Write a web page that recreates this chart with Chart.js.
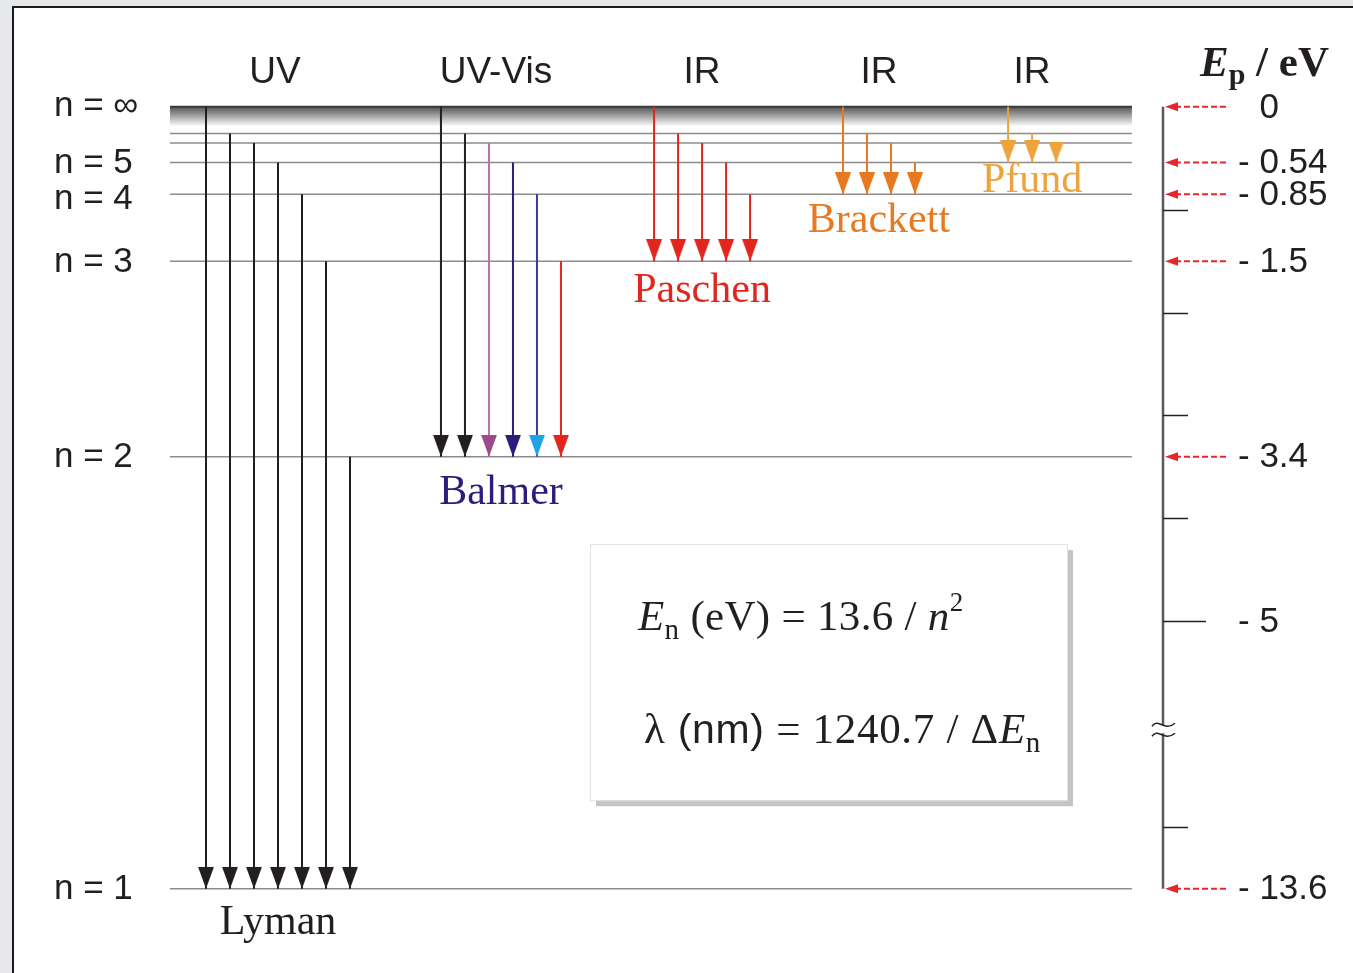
<!DOCTYPE html>
<html>
<head>
<meta charset="utf-8">
<script src="https://cdn.jsdelivr.net/npm/chart.js@4/dist/chart.umd.min.js"></script>
<style>
  html, body { margin: 0; padding: 0; overflow: hidden; background: #e6e8eb; }
  #frame { position: absolute; left: 12px; top: 6px; width: 2000px; height: 2000px; background: #fff;
           border-left: 2px solid #1b1b1b; border-top: 2px solid #1b1b1b; }
  #wrap { position: absolute; left: 0; top: 0; width: 1353px; height: 973px; }
</style>
</head>
<body>
<div id="frame"></div>
<div id="wrap"><canvas id="myChart" width="1353" height="973"></canvas></div>
<script>
// energy levels of hydrogen (eV), read on the right hand scale
var levelNames = ["1", "2", "3", "4", "5", "6", "7", "∞"];
var levelEnergy = [-13.6, -3.4, -1.5, -0.85, -0.54, -0.35, -0.26, 0];
var labelledLevels = ["∞", "5", "4", "3", "2", "1"];

// series: lower level and the upper levels the arrows come from
var seriesNames = ["Lyman", "Balmer", "Paschen", "Brackett", "Pfund"];
var seriesTo = ["1", "2", "3", "4", "5"];
var lymanFrom = ["∞", "7", "6", "5", "4", "3", "2"];
var balmerFrom = ["∞", "7", "6", "5", "4", "3"];
var paschenFrom = ["∞", "7", "6", "5", "4"];
var brackettFrom = ["∞", "7", "6", "5"];
var pfundFrom = ["∞", "7", "6"];
var regionNames = ["UV", "UV-Vis", "IR", "IR", "IR"];

// right scale
var axisLabels = [0, -0.54, -0.85, -1.5, -3.4, -5, -13.6];
var axisMinor = [-1, -2, -3, -4, -13];
var axisMajor = [-5];

// --- layout / style (not data) ---
var seriesColumn = [0, 9.79, 18.67, 26.54, 33.42];   // x of first arrow, one column per arrow
var lineStart = -1.5, lineEnd = 38.58;
var axisX = 39.875;
var serif = '"Liberation Serif", "Times New Roman", serif';
var sans = '"Liberation Sans", Arial, sans-serif';
var ink = '#231f20';
var seriesColor = [ink, '#2b1d7d', '#e0261d', '#e8791e', '#eea43c'];
var balmerShaft = [ink, ink, '#c070a8', '#2b1d7d', '#3a3a9e', '#e0261d'];
var balmerHead = [ink, ink, '#9c4a8a', '#2b1d7d', '#1ea3e8', '#e0261d'];
var labelBaseline = [45, 47, 41, 38, 30];

function energyOf(name) { return levelEnergy[levelNames.indexOf(name)]; }
// axis is broken between -6 and -12 eV
function disp(e) { return e < -6 ? e + 6 : e; }

var headCache = {};
function arrowHead(color, w, h) {
  var key = color + w + 'x' + h;
  if (headCache[key]) return headCache[key];
  var c = document.createElement('canvas');
  c.width = w; c.height = 2 * h;
  var g = c.getContext('2d');
  g.fillStyle = color;
  g.beginPath();
  g.moveTo(0, 0); g.lineTo(w, 0); g.lineTo(w / 2, h); g.closePath();
  g.fill();
  headCache[key] = c;
  return c;
}

function arrowDataset(x, from, to, shaft, head) {
  return {
    data: [{ x: x, y: disp(energyOf(from)) }, { x: x, y: disp(energyOf(to)) }],
    borderColor: shaft,
    borderWidth: 2,
    order: 0,
    pointRadius: function (c) { return c.dataIndex === 1 ? 5 : 0; },
    pointStyle: function (c) {
      if (c.dataIndex !== 1) return 'circle';
      var y = c.chart.scales.y;
      var len = y.getPixelForValue(disp(energyOf(to))) - y.getPixelForValue(disp(energyOf(from)));
      var h = Math.min(22, Math.round(len));
      var w = Math.round(16 * h / 22);
      return arrowHead(head, w, h);
    }
  };
}

var datasets = [];
var fromLists = [lymanFrom, balmerFrom, paschenFrom, brackettFrom, pfundFrom];
fromLists.forEach(function (list, s) {
  list.forEach(function (from, i) {
    var shaft = s === 1 ? balmerShaft[i] : seriesColor[s];
    var head = s === 1 ? balmerHead[i] : seriesColor[s];
    datasets.push(arrowDataset(seriesColumn[s] + i, from, seriesTo[s], shaft, head));
  });
});

// level lines
levelNames.forEach(function (n, i) {
  if (n === "∞") return;
  var y = disp(levelEnergy[i]);
  datasets.push({
    data: [{ x: lineStart, y: y }, { x: lineEnd, y: y }],
    borderColor: '#8c8c8c', borderWidth: 1.5, pointRadius: 0, order: 1
  });
});
// ionisation limit with shading below
datasets.push({
  data: [{ x: lineStart, y: 0 }, { x: lineEnd, y: 0 }],
  borderColor: '#3a3a3a', borderWidth: 2, pointRadius: 0, order: 1,
  fill: { value: -0.19 },
  backgroundColor: function (c) {
    var ch = c.chart;
    if (!ch.chartArea) return '#999';
    var ys = ch.scales.y;
    var g = ch.ctx.createLinearGradient(0, ys.getPixelForValue(0), 0, ys.getPixelForValue(-0.19));
    g.addColorStop(0, '#555555');
    g.addColorStop(1, '#ffffff');
    return g;
  }
});

function runs(ctx, x, y, parts) {
  parts.forEach(function (p) {
    ctx.font = p.f;
    ctx.fillText(p.t, x, y + (p.dy || 0));
    x += ctx.measureText(p.t).width;
  });
}

var diagram = {
  id: 'diagram',
  afterDatasetsDraw: function (chart) {
    var ctx = chart.ctx, xs = chart.scales.x, ys = chart.scales.y;
    ctx.save();
    ctx.fillStyle = ink;
    ctx.textBaseline = 'middle';

    // level names on the left
    ctx.font = '35px ' + sans;
    ctx.textAlign = 'left';
    labelledLevels.forEach(function (n) {
      var py = ys.getPixelForValue(disp(energyOf(n)));
      if (n === "4") py += 4;
      if (n === "∞") py -= 2;
      ctx.fillText('n = ' + n, 54, py + 1);
    });

    // region names and series names
    ctx.textAlign = 'center';
    ctx.textBaseline = 'alphabetic';
    seriesNames.forEach(function (name, s) {
      var cx = xs.getPixelForValue(seriesColumn[s] + (fromLists[s].length - 1) / 2);
      ctx.fillStyle = ink;
      ctx.font = '37px ' + sans;
      ctx.fillText(regionNames[s], cx - (s === 1 ? 5 : 0) - (s === 0 ? 3 : 0), 83);
      ctx.fillStyle = seriesColor[s];
      ctx.font = '42px ' + serif;
      ctx.fillText(name, cx, ys.getPixelForValue(disp(energyOf(seriesTo[s]))) + labelBaseline[s]);
    });

    // right scale
    var ax = xs.getPixelForValue(axisX);
    ctx.strokeStyle = '#5a5a5a';
    ctx.lineWidth = 2.5;
    ctx.beginPath();
    ctx.moveTo(ax, ys.getPixelForValue(0));
    ctx.lineTo(ax, ys.getPixelForValue(disp(-13.6)));
    ctx.stroke();
    ctx.strokeStyle = '#222';
    ctx.lineWidth = 1.5;
    axisMinor.concat(axisMajor).forEach(function (v) {
      var py = Math.round(ys.getPixelForValue(disp(v))) + 0.5;
      ctx.beginPath();
      ctx.moveTo(ax, py);
      ctx.lineTo(ax + (axisMajor.indexOf(v) >= 0 ? 43 : 25), py);
      ctx.stroke();
    });
    // break mark
    var by = ys.getPixelForValue(-6.05);
    ctx.fillStyle = '#fff';
    ctx.fillRect(ax - 3, by - 4, 6, 8);
    ctx.strokeStyle = '#222';
    ctx.lineWidth = 1.5;
    [-5, 5].forEach(function (d) {
      ctx.beginPath();
      ctx.moveTo(ax - 11, by + d + 2);
      ctx.bezierCurveTo(ax - 5, by + d - 7, ax + 1, by + d + 8, ax + 12, by + d - 1);
      ctx.stroke();
    });

    ctx.font = '35px ' + sans;
    ctx.textAlign = 'left';
    ctx.textBaseline = 'middle';
    var lx = xs.getPixelForValue(43);
    var dash = ctx.measureText('- ').width;
    axisLabels.forEach(function (v) {
      var py = ys.getPixelForValue(disp(v));
      ctx.fillStyle = ink;
      if (v === 0) ctx.fillText('0', lx + dash, py + 1);
      else ctx.fillText('- ' + Math.abs(v), lx, py + 1);
      if (axisMajor.indexOf(v) >= 0) return;
      // red pointer
      var x0 = xs.getPixelForValue(42.5), x1 = ax + 2;
      ctx.strokeStyle = '#e8262a';
      ctx.lineWidth = 2;
      ctx.setLineDash([6, 3]);
      ctx.beginPath();
      ctx.moveTo(x0, py); ctx.lineTo(x1 + 10, py);
      ctx.stroke();
      ctx.setLineDash([]);
      ctx.fillStyle = '#e8262a';
      ctx.beginPath();
      ctx.moveTo(x1, py); ctx.lineTo(x1 + 13, py - 4.5); ctx.lineTo(x1 + 13, py + 4.5); ctx.closePath();
      ctx.fill();
    });

    // axis title
    ctx.fillStyle = ink;
    ctx.textBaseline = 'alphabetic';
    runs(ctx, 1200, 76, [
      { t: 'E', f: 'italic bold 43px ' + serif },
      { t: 'p', f: 'bold 30px ' + serif, dy: 8 },
      { t: ' / eV', f: 'bold 43px ' + serif }
    ]);

    // formula box
    var bx0 = xs.getPixelForValue(16), bx1 = xs.getPixelForValue(35.875);
    var by0 = ys.getPixelForValue(-4.25), by1 = ys.getPixelForValue(-6.74);
    ctx.fillStyle = '#c4c4c4';
    ctx.fillRect(bx0 + 6, by0 + 6, bx1 - bx0, by1 - by0);
    ctx.fillStyle = '#fff';
    ctx.fillRect(bx0, by0, bx1 - bx0, by1 - by0);
    ctx.strokeStyle = '#e2e2e2';
    ctx.lineWidth = 1;
    ctx.strokeRect(bx0 + 0.5, by0 + 0.5, bx1 - bx0, by1 - by0);
    ctx.fillStyle = ink;
    ctx.letterSpacing = '0.3px';
    runs(ctx, bx0 + 48, by0 + 86, [
      { t: 'E', f: 'italic 43px ' + serif },
      { t: 'n', f: '29px ' + serif, dy: 9 },
      { t: ' (eV) = 13.6 / ', f: '43px ' + serif },
      { t: 'n', f: 'italic 43px ' + serif },
      { t: '2', f: '27px ' + serif, dy: -19 }
    ]);
    ctx.letterSpacing = '0.7px';
    runs(ctx, bx0 + 54, by0 + 199, [
      { t: 'λ', f: '43px ' + serif },
      { t: ' (nm)', f: '41px ' + sans },
      { t: ' = 1240.7 / Δ', f: '43px ' + serif },
      { t: 'E', f: 'italic 43px ' + serif },
      { t: 'n', f: '29px ' + serif, dy: 9 }
    ]);
    ctx.letterSpacing = '0px';
    ctx.restore();
  }
};

var ctx = document.getElementById("myChart");
var myChart = new Chart(ctx, {
  type: 'line',
  data: { datasets: datasets },
  options: {
    responsive: false,
    animation: false,
    events: [],
    layout: { autoPadding: false, padding: { top: 4, bottom: 2, left: 0, right: 0 } },
    plugins: { legend: { display: false }, tooltip: { enabled: false } },
    scales: {
      x: { type: 'linear', display: false, min: -206 / 24, max: (1353 - 206) / 24 },
      y: { type: 'linear', display: false, min: -8.4, max: 1.0 }
    }
  },
  plugins: [diagram]
});
</script>
</body>
</html>
